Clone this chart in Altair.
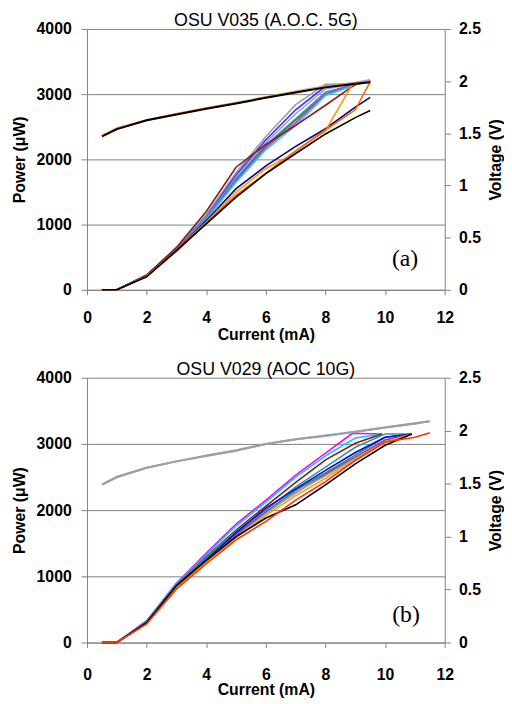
import altair as alt
import pandas as pd

# ---------------- Panel (a): OSU V035 (A.O.C. 5G) ----------------
a_title = "OSU V035 (A.O.C. 5G)"
a_tag = "(a)"
a_tag_pos = [10.67, 470]          # current (mA), power (uW)

a_x = [0.5, 1, 2, 3, 4, 5, 6, 7, 8, 9, 9.5]
a_gray = [0, 0, 230, 640, 1150, 1800, 2350, 2840, 3150, 3160, 3200]
a_blue = [0, 0, 220, 630, 1120, 1760, 2300, 2760, 3120, 3160, 3200]
a_lavender = [0, 0, 220, 625, 1110, 1720, 2260, 2700, 3080, 3160, 3210]
a_teal = [0, 0, 220, 620, 1100, 1700, 2220, 2620, 3030, 3150, 3200]
a_green = [0, 0, 215, 615, 1090, 1680, 2200, 2600, 3000, 3150, 3200]
a_magenta = [0, 0, 215, 620, 1090, 1670, 2180, 2560, 3000, 3150, 3200]
a_cyan = [0, 0, 210, 610, 1080, 1650, 2150, 2520, 2980, 3140, 3200]
a_brown = [0, 0, 225, 650, 1200, 1880, 2230, 2520, 2830, 3150, 3200]
a_navy = [0, 0, 215, 600, 1060, 1550, 1900, 2200, 2470, 2800, 2950]
a_orange_x = [0.5, 1, 2, 3, 4, 5, 6, 6.7, 8, 8.9, 9.5]
a_orange = [0, 0, 210, 600, 1040, 1500, 1860, 2030, 2440, 3150, 3200]
a_dkorange = [0, 0, 210, 590, 1030, 1450, 1790, 2130, 2450, 2760, 3190]
a_black = [0, 0, 200, 600, 1010, 1420, 1780, 2090, 2390, 2640, 2750]

a_v_lavender = [1.47, 1.54, 1.625, 1.685, 1.74, 1.79, 1.845, 1.9, 1.95, 1.985, 2.01]
a_v_orange = [1.475, 1.55, 1.625, 1.685, 1.74, 1.79, 1.845, 1.895, 1.945, 1.98, 2.0]
a_v_black = [1.47, 1.54, 1.625, 1.68, 1.735, 1.785, 1.84, 1.89, 1.94, 1.975, 1.99]

a_names = ["gray", "blue", "lavender", "teal", "green", "magenta", "cyan",
           "brown", "navy", "orange", "dkorange", "black"]
a_colors = ["#A0A0A0", "#3333FF", "#9999FF", "#339999", "#2E8B57", "#CC33CC",
            "#22CCEE", "#8B1A1A", "#000080", "#FF9900", "#FF6600", "#000000"]
a_vnames = ["v_lavender", "v_orange", "v_black"]
a_vcolors = ["#9999FF", "#FF8C00", "#000000"]

# ---------------- Panel (b): OSU V029 (AOC 10G) ----------------
b_title = "OSU V029 (AOC 10G)"
b_tag = "(b)"
b_tag_pos = [10.7, 420]

b_x_short = [0.5, 1, 2, 3, 4, 5, 6, 7, 8, 8.9, 9.9]
b_x_mid = [0.5, 1, 2, 3, 4, 5, 6, 7, 8, 9, 9.9]
b_x_long = [0.5, 1, 2, 3, 4, 5, 6, 7, 8, 9, 10, 10.9]
b_x_full = [0.5, 1, 2, 3, 4, 5, 6, 7, 8, 9, 10, 11, 11.5]

b_magenta = [0, 0, 330, 900, 1350, 1790, 2150, 2530, 2860, 3160, 3150]
b_cyan = [0, 0, 320, 890, 1330, 1760, 2120, 2500, 2820, 3090, 3150]
b_brown = [0, 0, 310, 870, 1300, 1700, 2060, 2420, 2760, 3010, 3150]
b_teal = [0, 0, 310, 870, 1290, 1680, 2000, 2350, 2650, 2950, 3150, 3150]
b_green = [0, 0, 300, 860, 1270, 1650, 1970, 2300, 2560, 2830, 3100, 3150]
b_blue = [0, 0, 300, 850, 1250, 1660, 2030, 2320, 2600, 2870, 3100, 3150]
b_purple = [0, 0, 300, 850, 1240, 1620, 1970, 2260, 2540, 2800, 3060, 3150]
b_gray = [0, 0, 300, 840, 1220, 1600, 1950, 2270, 2520, 2780, 3030, 3150]
b_orange = [0, 0, 290, 830, 1220, 1580, 1920, 2220, 2480, 2760, 3020, 3150]
b_black = [0, 0, 300, 860, 1240, 1600, 1880, 2080, 2380, 2700, 2980, 3150]
b_red = [0, 0, 280, 810, 1190, 1550, 1830, 2150, 2430, 2750, 3030, 3100, 3170]

b_v_bluegray = [1.49, 1.56, 1.65, 1.71, 1.76, 1.81, 1.875, 1.92, 1.955, 1.99, 2.03, 2.07, 2.09]
b_v_gray = [1.49, 1.565, 1.65, 1.71, 1.765, 1.815, 1.875, 1.92, 1.95, 1.99, 2.03, 2.065, 2.09]

b_names = ["magenta", "cyan", "brown", "teal", "green", "blue", "purple",
           "gray", "orange", "black", "red"]
b_colors = ["#FF00FF", "#00CCFF", "#8B1A1A", "#339999", "#2E8B57", "#0000FF",
            "#993399", "#A0A0A0", "#FF9900", "#000000", "#FF3300"]
b_vnames = ["v_bluegray", "v_gray"]
b_vcolors = ["#8899BB", "#A0A0A0"]

x_ticks = [0, 2, 4, 6, 8, 10, 12]
p_ticks = [0, 1000, 2000, 3000, 4000]
v_ticks = [0, 0.5, 1, 1.5, 2, 2.5]


def long_df(pairs, field):
    rows = []
    for name, xs, ys in pairs:
        for i, (xv, yv) in enumerate(zip(xs, ys)):
            rows.append({"series": name, "current": xv, field: yv, "idx": i})
    return pd.DataFrame(rows)


a_power = long_df([
    ("gray", a_x, a_gray), ("blue", a_x, a_blue), ("lavender", a_x, a_lavender),
    ("teal", a_x, a_teal), ("green", a_x, a_green), ("magenta", a_x, a_magenta),
    ("cyan", a_x, a_cyan), ("brown", a_x, a_brown), ("navy", a_x, a_navy),
    ("orange", a_orange_x, a_orange), ("dkorange", a_x, a_dkorange),
    ("black", a_x, a_black)], "power")
a_volt = long_df([("v_lavender", a_x, a_v_lavender), ("v_orange", a_x, a_v_orange),
                  ("v_black", a_x, a_v_black)], "voltage")

b_power = long_df([
    ("magenta", b_x_short, b_magenta), ("cyan", b_x_mid, b_cyan),
    ("brown", b_x_mid, b_brown), ("teal", b_x_long, b_teal),
    ("green", b_x_long, b_green), ("blue", b_x_long, b_blue),
    ("purple", b_x_long, b_purple), ("gray", b_x_long, b_gray),
    ("orange", b_x_long, b_orange), ("black", b_x_long, b_black),
    ("red", b_x_full, b_red)], "power")
b_volt = long_df([("v_bluegray", b_x_full, b_v_bluegray),
                  ("v_gray", b_x_full, b_v_gray)], "voltage")

FONT = "Liberation Sans"
AX = "#808080"


def panel(title, pdf, vdf, names, colors, vnames, vcolors, tag, tag_pos,
          w, h, lab_pad, tit_pad):
    xscale = alt.Scale(domain=[0, 12], nice=False, zero=False)
    pscale = alt.Scale(domain=[0, 4000], nice=False)
    vscale = alt.Scale(domain=[0, 2.5], nice=False)

    x_enc = alt.X("current:Q", scale=xscale,
                  axis=alt.Axis(values=x_ticks, format="d", title="Current (mA)",
                                grid=False, tickSize=5, labelPadding=lab_pad,
                                titlePadding=tit_pad, labelFlush=False))
    p_enc = alt.Y("power:Q", scale=pscale,
                  axis=alt.Axis(values=p_ticks, format="d", title="Power (μW)",
                                grid=True, tickSize=6, labelPadding=10,
                                titlePadding=9, labelFlush=False))

    power = alt.Chart(pdf).mark_line(strokeWidth=1.6).encode(
        x=x_enc, y=p_enc,
        color=alt.Color("series:N", scale=alt.Scale(domain=names, range=colors),
                        legend=None),
        order=alt.Order("idx:Q"),
    )
    tag_df = pd.DataFrame({"t": [tag], "current": [tag_pos[0]], "power": [tag_pos[1]]})
    tagmark = alt.Chart(tag_df).mark_text(font="Liberation Serif", fontSize=24,
                                          color="black").encode(
        x=x_enc, y=p_enc, text="t:N",
    )
    volt = alt.Chart(vdf).mark_line(strokeWidth=2).encode(
        x=x_enc,
        y=alt.Y("voltage:Q", scale=vscale,
                axis=alt.Axis(orient="right", values=v_ticks, format="~g",
                              title="Voltage (V)", grid=False, tickSize=6,
                              labelPadding=8, titlePadding=7, titleAngle=270,
                              titleBaseline="top", labelFlush=False)),
        color=alt.Color("series:N", scale=alt.Scale(domain=vnames, range=vcolors),
                        legend=None),
        order=alt.Order("idx:Q"),
    )
    return alt.layer(alt.layer(power, tagmark), volt).resolve_scale(
        y="independent", color="independent"
    ).properties(
        width=w, height=h,
        title=alt.TitleParams(title, fontSize=18, fontWeight="normal", font=FONT,
                              offset=-9, anchor="middle", frame="group"),
    )


top = panel(a_title, a_power, a_volt, a_names, a_colors, a_vnames, a_vcolors,
            a_tag, a_tag_pos, 362, 264, 15, 1)
bottom = panel(b_title, b_power, b_volt, b_names, b_colors, b_vnames, b_vcolors,
               b_tag, b_tag_pos, 362, 268, 19, 0)

chart = alt.vconcat(top, bottom, spacing=19).properties(
    padding={"left": 3, "top": 0, "right": 0, "bottom": 0}
).configure_view(stroke=None).configure_axis(
    labelFont=FONT, labelFontSize=16, labelFontWeight="bold", labelColor="black",
    titleFont=FONT, titleFontSize=16, titleFontWeight="bold", titleColor="black",
    domainColor=AX, tickColor=AX, gridColor=AX, gridOpacity=1, domainWidth=1,
)

chart.save("out.html", embed_options={"renderer": "svg", "actions": False})
